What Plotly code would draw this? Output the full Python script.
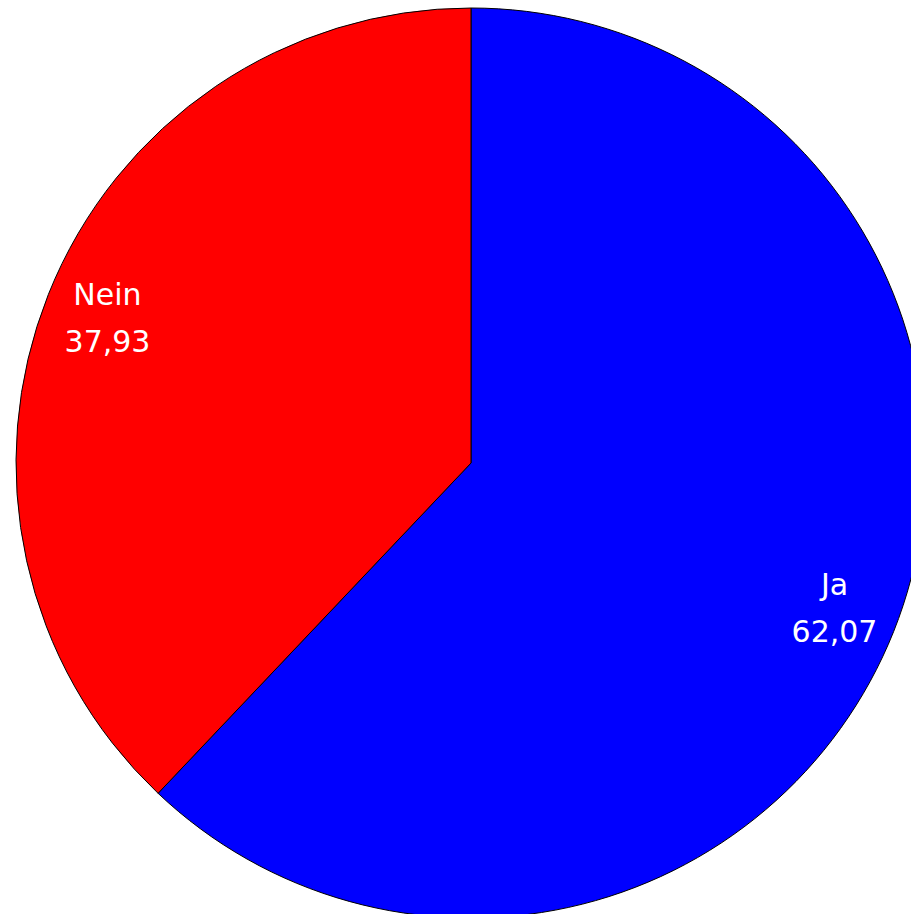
import plotly.graph_objects as go

labels = ["Ja", "Nein"]
values = [62.07, 37.93]
colors = ["#0000FF", "#FF0000"]

W, H = 942, 926
cx, cy, r = 471, 463, 455
dom = dict(x=[(cx - r) / W, (cx + r) / W], y=[(H - cy - r) / H, (H - cy + r) / H])

# filled pie (no text)
fig = go.Figure(go.Pie(
    labels=labels,
    values=values,
    sort=False,
    direction="clockwise",
    rotation=0,
    marker=dict(colors=colors, line=dict(color="black", width=1)),
    textinfo="none",
    domain=dom,
    hoverinfo="label+value",
))
# transparent ring carrying the labels near the rim
fig.add_trace(go.Pie(
    labels=labels,
    values=values,
    sort=False,
    direction="clockwise",
    rotation=0,
    hole=0.72,
    marker=dict(colors=["rgba(0,0,0,0)"] * len(labels), line=dict(width=0)),
    texttemplate="<span style='font-size:30px'>%{label}</span><br><span style='font-size:30px'>%{value:.2f}</span>",
    textposition="inside",
    insidetextorientation="horizontal",
    textfont=dict(family="DejaVu Sans", size=36, color="white"),
    domain=dom,
    hoverinfo="skip",
))
fig.update_layout(
    width=W, height=H,
    margin=dict(l=0, r=0, t=0, b=0),
    showlegend=False,
    separators=",.",
    paper_bgcolor="white",
    plot_bgcolor="white",
)
fig.write_html(
    "out.html",
    config={"displayModeBar": False},
    post_script="document.body.style.margin='0';document.body.style.overflow='hidden';",
)
